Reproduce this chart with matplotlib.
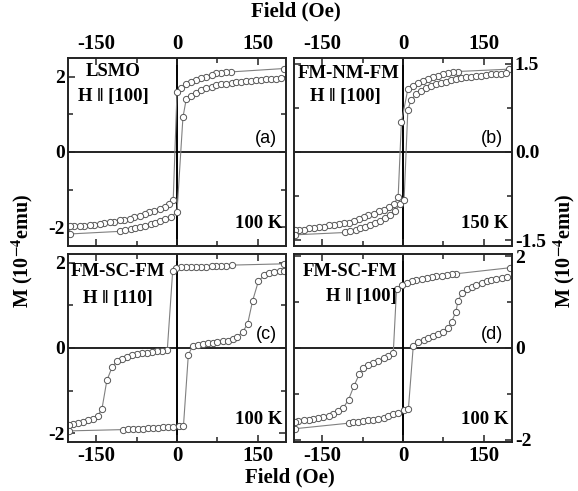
import matplotlib.pyplot as plt
from matplotlib.ticker import MultipleLocator, FormatStrFormatter

plt.rcParams['font.family'] = ['Liberation Serif', 'DejaVu Serif']
plt.rcParams['font.weight'] = 'bold'
plt.rcParams['axes.unicode_minus'] = False
plt.rcParams['mathtext.fontset'] = 'stix'

# (a) LSMO, H || [100], 100 K
a_desc_h = [198, 100, 91, 82, 73, 64, 54, 45, 36, 26, 17, 8, 0, -7, -15, -23, -32, -42, -51,
            -60, -69, -79, -88, -98, -106, -116, -125, -135, -143, -153, -162, -172, -180, -190, -199]
a_desc_m = [2.22, 2.13, 2.12, 2.11, 2.09, 2.04, 2.00, 1.96, 1.91, 1.86, 1.80, 1.71, 1.60, -1.27,
            -1.38, -1.45, -1.51, -1.56, -1.60, -1.64, -1.69, -1.73, -1.78, -1.80, -1.82, -1.85,
            -1.87, -1.88, -1.91, -1.93, -1.94, -1.96, -1.96, -1.97, -1.98]
a_asc_h = [-199, -105, -96, -86, -77, -68, -59, -49, -40, -31, -22, -12, 0, 11, 17, 26, 36, 45,
           54, 64, 73, 82, 91, 101, 110, 119, 128, 138, 147, 156, 165, 175, 184, 193]
a_asc_m = [-2.18, -2.11, -2.08, -2.05, -2.03, -1.99, -1.96, -1.92, -1.88, -1.83, -1.79, -1.73,
           -1.60, 0.92, 1.40, 1.48, 1.57, 1.64, 1.69, 1.73, 1.77, 1.80, 1.82, 1.84, 1.86, 1.87,
           1.88, 1.89, 1.91, 1.92, 1.93, 1.95, 1.95, 1.98]

# (b) FM-NM-FM, H || [100], 150 K
b_desc_h = [196, 101, 93, 83, 74, 65, 56, 46, 37, 28, 19, 9, -3, -9, -17, -26, -36, -45, -54,
            -64, -73, -82, -91, -101, -110, -119, -128, -138, -147, -156, -165, -175, -184, -193, -200]
b_desc_m = [1.41, 1.37, 1.36, 1.35, 1.33, 1.30, 1.27, 1.24, 1.21, 1.18, 1.13, 1.07, 0.51, -0.77,
            -0.88, -0.93, -0.99, -1.01, -1.05, -1.08, -1.11, -1.14, -1.17, -1.20, -1.21, -1.23,
            -1.24, -1.25, -1.27, -1.28, -1.29, -1.30, -1.32, -1.32, -1.33]
b_asc_h = [-200, -107, -98, -88, -79, -70, -61, -51, -42, -33, -24, -14, -5, 2, 9, 15, 25, 34,
           43, 52, 62, 71, 80, 89, 99, 108, 117, 126, 136, 145, 154, 164, 173, 182, 191]
b_asc_m = [-1.41, -1.37, -1.35, -1.33, -1.29, -1.27, -1.24, -1.21, -1.17, -1.12, -1.07, -1.00,
           -0.88, -0.82, 0.72, 0.88, 0.99, 1.04, 1.09, 1.12, 1.15, 1.18, 1.20, 1.23, 1.24, 1.26,
           1.27, 1.28, 1.29, 1.30, 1.31, 1.32, 1.32, 1.33, 1.34]

# (c) FM-SC-FM, H || [110], 100 K
c_desc_h = [198, 101, 91, 82, 73, 64, 54, 45, 36, 26, 17, 8, -1, -8, -18, -28, -37, -46, -56,
            -65, -74, -83, -93, -102, -111, -120, -130, -139, -147, -156, -165, -174, -184, -193, -200]
c_desc_m = [1.97, 1.94, 1.92, 1.92, 1.91, 1.91, 1.90, 1.90, 1.90, 1.89, 1.89, 1.89, 1.88, 1.80,
            -0.05, -0.07, -0.08, -0.09, -0.11, -0.12, -0.15, -0.17, -0.21, -0.25, -0.31, -0.44,
            -0.76, -1.42, -1.59, -1.66, -1.69, -1.73, -1.75, -1.77, -1.80]
c_asc_h = [-200, -100, -91, -82, -72, -63, -54, -45, -35, -26, -17, -8, 3, 12, 21, 29, 38, 48,
           57, 66, 75, 85, 94, 103, 112, 122, 131, 140, 151, 162, 171, 180, 190, 199]
c_asc_m = [-1.94, -1.91, -1.90, -1.90, -1.89, -1.89, -1.88, -1.88, -1.87, -1.86, -1.85, -1.84,
           -1.83, -1.82, -0.16, 0.05, 0.07, 0.09, 0.11, 0.12, 0.14, 0.16, 0.17, 0.20, 0.26, 0.38,
           0.57, 1.10, 1.57, 1.70, 1.75, 1.77, 1.80, 1.81]

# (d) FM-SC-FM, H || [100], 100 K
d_desc_h = [198, 99, 90, 81, 72, 62, 53, 44, 35, 25, 16, 7, -2, -12, -18, -27, -36, -46, -55,
            -64, -74, -81, -91, -101, -111, -120, -129, -138, -148, -157, -166, -175, -184, -194, -200]
d_desc_m = [1.75, 1.62, 1.61, 1.59, 1.58, 1.57, 1.55, 1.53, 1.51, 1.48, 1.46, 1.42, 1.37, 1.28,
            -0.10, -0.17, -0.22, -0.28, -0.32, -0.37, -0.44, -0.57, -0.83, -1.13, -1.31, -1.38,
            -1.44, -1.48, -1.51, -1.53, -1.55, -1.57, -1.58, -1.59, -1.61]
d_asc_h = [-200, -101, -92, -83, -74, -64, -55, -46, -36, -27, -18, -9, 1, 10, 19, 28, 38, 47,
           56, 65, 75, 84, 90, 98, 102, 109, 118, 127, 136, 146, 155, 164, 173, 183, 192]
d_asc_m = [-1.76, -1.64, -1.62, -1.61, -1.59, -1.58, -1.57, -1.54, -1.52, -1.48, -1.44, -1.41,
           -1.36, -1.33, 0.04, 0.12, 0.17, 0.22, 0.26, 0.30, 0.35, 0.43, 0.57, 0.79, 1.03, 1.19,
           1.28, 1.34, 1.38, 1.42, 1.46, 1.48, 1.50, 1.52, 1.54]

# sample / field direction / label text (x, y in pixels from top-left)
panels = [
    dict(h=a_desc_h + a_asc_h, m=a_desc_m + a_asc_m, ylim=2.5, major=2, minor=1,
         name='LSMO', field='H \u2016 [100]', tag='(a)', temp='100 K',
         pos=[68, 58], xlab='top', ylab='left', name_xy=(113, 72), field_xy=(113, 97), fmt='%d'),
    dict(h=b_desc_h + b_asc_h, m=b_desc_m + b_asc_m, ylim=1.6, major=1.5, minor=0.75,
         name='FM-NM-FM', field='H \u2016 [100]', tag='(b)', temp='150 K',
         pos=[294, 58], xlab='top', ylab='right', name_xy=(349, 74), field_xy=(345, 97), fmt='%.1f'),
    dict(h=c_desc_h + c_asc_h, m=c_desc_m + c_asc_m, ylim=2.2, major=2, minor=1,
         name='FM-SC-FM', field='H \u2016 [110]', tag='(c)', temp='100 K',
         pos=[68, 254], xlab='bottom', ylab='left', name_xy=(118, 271), field_xy=(118, 298), fmt='%d'),
    dict(h=d_desc_h + d_asc_h, m=d_desc_m + d_asc_m, ylim=2.05, major=2, minor=1,
         name='FM-SC-FM', field='H \u2016 [100]', tag='(d)', temp='100 K',
         pos=[294, 254], xlab='bottom', ylab='right', name_xy=(350, 272), field_xy=(361, 297), fmt='%d'),
]

W, H = 578, 491
fig = plt.figure(figsize=(W / 100, H / 100), dpi=100)

for p in panels:
    x0, y0 = p['pos']
    ax = fig.add_axes([x0 / W, 1 - (y0 + 188) / H, 218 / W, 188 / H])
    ax.axhline(0, color='#222222', lw=1.4, zorder=1)
    ax.axvline(0, color='black', lw=1.4, zorder=1)
    ax.plot(p['h'], p['m'], '-', color='#808080', lw=0.8, marker='o', ms=4.5,
            mfc='white', mec='#555555', mew=0.7, zorder=2)
    ax.set_xlim(-202, 202)
    ax.set_ylim(-p['ylim'], p['ylim'])
    ax.xaxis.set_major_locator(MultipleLocator(150))
    ax.xaxis.set_minor_locator(MultipleLocator(75))
    ax.yaxis.set_major_locator(MultipleLocator(p['major']))
    ax.yaxis.set_minor_locator(MultipleLocator(p['minor']))
    ax.yaxis.set_major_formatter(FormatStrFormatter(p['fmt']))
    for s in ax.spines.values():
        s.set_linewidth(1.4)
        s.set_color('#222222')
    ax.tick_params(which='both', direction='in', top=True, right=True, width=1.1,
                   color='#222222')
    ax.tick_params(which='major', length=5)
    ax.tick_params(which='minor', length=3.5)
    ax.tick_params(axis='x', pad=3, labelsize=15,
                   labeltop=p['xlab'] == 'top', labelbottom=p['xlab'] == 'bottom')
    ax.tick_params(axis='y', pad=2, labelsize=14,
                   labelleft=p['ylab'] == 'left', labelright=p['ylab'] == 'right')

    nx, ny = p['name_xy']
    fx, fy = p['field_xy']
    fig.text(nx / W, 1 - ny / H, p['name'], ha='center', va='center',
             fontsize=13.5, fontweight='bold')
    fig.text(fx / W, 1 - fy / H, p['field'], ha='center', va='center',
             fontsize=13.5, fontweight='bold')
    ax.text(0.96, 0.57, p['tag'], transform=ax.transAxes, ha='right', va='center',
            fontsize=13, fontweight='normal', family='Liberation Sans')
    ax.text(0.985, 0.12, p['temp'], transform=ax.transAxes, ha='right', va='center',
            fontsize=13.5, fontweight='bold')

ylab = 'M (10$^{\\mathbf{-4}}$emu)'
fig.text(296 / W, 1 - 11 / H, 'Field (Oe)', ha='center', va='center', fontsize=15)
fig.text(290 / W, 1 - 477 / H, 'Field (Oe)', ha='center', va='center', fontsize=15)
fig.text(22 / W, 1 - 251 / H, ylab, ha='center', va='center', rotation=90, fontsize=14.5)
fig.text(564 / W, 1 - 251 / H, ylab, ha='center', va='center', rotation=90, fontsize=14.5)

fig.savefig('out.png', dpi=100)
